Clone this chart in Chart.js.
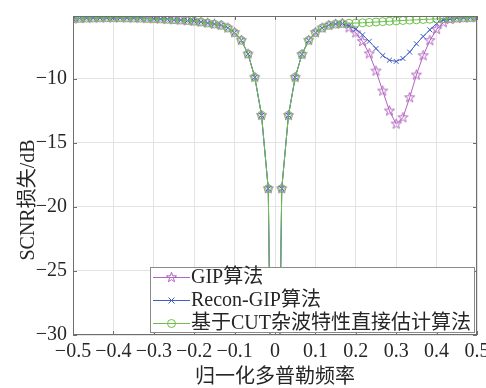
<!DOCTYPE html>
<html><head><meta charset="utf-8">
<script src="https://cdn.jsdelivr.net/npm/chart.js@4"></script>
<style>html,body{margin:0;padding:0;background:#fff}canvas{display:block}</style>
</head><body>
<canvas id="c" width="486" height="388"></canvas>
<script>
const freqs = [-0.5, -0.4833, -0.4667, -0.45, -0.4333, -0.4167, -0.4, -0.3833, -0.3667, -0.35,
  -0.3333, -0.3167, -0.3, -0.2833, -0.2667, -0.25, -0.2333, -0.2167, -0.2, -0.1833,
  -0.1667, -0.15, -0.1333, -0.1167, -0.1, -0.0833, -0.0667, -0.05, -0.0333, -0.0167,
  0, 0.0167, 0.0333, 0.05, 0.0667, 0.0833, 0.1, 0.1167, 0.1333, 0.15,
  0.1667, 0.1833, 0.2, 0.2167, 0.2333, 0.25, 0.2667, 0.2833, 0.3, 0.3167,
  0.3333, 0.35, 0.3667, 0.3833, 0.4, 0.4167, 0.4333, 0.45, 0.4667, 0.4833, 0.5];

const gipLoss = [-5.30, -5.27, -5.25, -5.24, -5.23, -5.22, -5.22, -5.22, -5.23, -5.24,
  -5.25, -5.27, -5.29, -5.31, -5.34, -5.37, -5.40, -5.44, -5.49, -5.55,
  -5.63, -5.71, -5.81, -6.02, -6.38, -6.98, -8.05, -9.87, -12.84, -18.57,
  -60, -18.57, -12.84, -9.87, -8.08, -6.98, -6.38, -6.02, -5.81, -5.71,
  -5.67, -6.00, -6.40, -7.07, -8.03, -9.38, -10.94, -12.50, -13.52, -13.02,
  -11.46, -9.69, -8.18, -7.00, -6.12, -5.60, -5.35, -5.27, -5.23, -5.21, -5.19];

const reconGipLoss = [-5.30, -5.27, -5.25, -5.24, -5.23, -5.22, -5.22, -5.22, -5.23, -5.24,
  -5.25, -5.27, -5.29, -5.31, -5.34, -5.37, -5.40, -5.44, -5.49, -5.55,
  -5.63, -5.71, -5.81, -6.02, -6.38, -6.98, -8.05, -9.87, -12.84, -18.57,
  -60, -18.57, -12.84, -9.87, -8.08, -6.98, -6.38, -6.02, -5.81, -5.71,
  -5.67, -5.85, -6.10, -6.55, -7.06, -7.62, -8.17, -8.53, -8.63, -8.40,
  -7.90, -7.25, -6.68, -6.16, -5.66, -5.40, -5.30, -5.25, -5.22, -5.20, -5.19];

const cutLoss = [-5.30, -5.27, -5.25, -5.24, -5.23, -5.22, -5.22, -5.22, -5.23, -5.24,
  -5.25, -5.27, -5.29, -5.31, -5.34, -5.37, -5.40, -5.44, -5.49, -5.55,
  -5.63, -5.71, -5.81, -6.02, -6.38, -6.98, -8.05, -9.87, -12.84, -18.57,
  -60, -18.57, -12.84, -9.87, -8.08, -6.98, -6.38, -6.02, -5.81, -5.71,
  -5.67, -5.65, -5.63, -5.61, -5.58, -5.55, -5.52, -5.49, -5.46, -5.43,
  -5.40, -5.38, -5.35, -5.33, -5.31, -5.29, -5.27, -5.25, -5.23, -5.21, -5.19];

const seriesNames = ['GIP算法', 'Recon-GIP算法', '基于CUT杂波特性直接估计算法'];
const xTicks = [-0.5, -0.4, -0.3, -0.2, -0.1, 0, 0.1, 0.2, 0.3, 0.4, 0.5];
const yTicks = [-30, -25, -20, -15, -10];
const xTitle = '归一化多普勒频率';
const yTitle = 'SCNR损失/dB';

const FONT = '"Liberation Serif", "Noto Sans CJK SC", serif';
const TXT = '#262626';
const AX = '#6e6e6e';
const C_GIP = '#B262C0', C_REC = '#3D5FC6', C_CUT = '#6DC04B';

function makeStar(color) {
  const c = document.createElement('canvas'); c.width = c.height = 13;
  const g = c.getContext('2d'); g.strokeStyle = color; g.lineWidth = 1;
  g.beginPath();
  for (let k = 0; k < 10; k++) {
    const r = k % 2 ? 2.1 : 5.3; const a = -Math.PI / 2 + k * Math.PI / 5;
    g.lineTo(6.5 + r * Math.cos(a), 6.5 + r * Math.sin(a));
  }
  g.closePath(); g.stroke(); return c;
}
const starImg = makeStar(C_GIP);

const toPts = arr => arr.map((v, i) => ({x: freqs[i], y: v}));
const fmt = v => { if (Math.abs(v) < 1e-9) return '0'; const s = Number.isInteger(v) ? String(v) : v.toFixed(1); return s.replace('-', '\u2212'); };

const decor = {
  id: 'decor',
  afterDatasetsDraw(chart) {
    const {ctx, chartArea: a, scales: {x, y}} = chart;
    ctx.save();
    ctx.strokeStyle = AX; ctx.lineWidth = 1;
    ctx.strokeRect(Math.round(a.left) + 0.5, Math.round(a.top) + 0.5, Math.round(a.right - a.left) - 1, Math.round(a.bottom - a.top) - 1);
    ctx.beginPath();
    xTicks.forEach(v => { const px = Math.round(x.getPixelForValue(v)) + 0.5;
      ctx.moveTo(px, a.bottom); ctx.lineTo(px, a.bottom - 4); ctx.moveTo(px, a.top); ctx.lineTo(px, a.top + 4); });
    yTicks.forEach(v => { const py = Math.round(y.getPixelForValue(v)) + 0.5;
      ctx.moveTo(a.left, py); ctx.lineTo(a.left + 4, py); ctx.moveTo(a.right, py); ctx.lineTo(a.right - 4, py); });
    ctx.stroke();
    ctx.restore();
  },
  afterDraw(chart) {
    const {ctx} = chart;
    ctx.save();
    // y title
    ctx.translate(29, 200); ctx.rotate(-Math.PI / 2);
    ctx.font = '20px ' + FONT; ctx.fillStyle = TXT; ctx.textAlign = 'center'; ctx.textBaseline = 'middle';
    ctx.fillText(yTitle, 0, 0);
    ctx.restore();
    // legend
    ctx.save();
    const bx = 150, by = 267, bw = 324, bh = 65;
    ctx.fillStyle = '#fff'; ctx.fillRect(bx, by, bw, bh);
    ctx.strokeStyle = '#8a8a8a'; ctx.lineWidth = 1; ctx.strokeRect(bx + 0.5, by + 0.5, bw, bh);
    const rows = [277, 300, 323];
    const cols = [C_GIP, C_REC, C_CUT];
    rows.forEach((ry, k) => {
      ctx.strokeStyle = cols[k]; ctx.lineWidth = 1;
      ctx.beginPath(); ctx.moveTo(153, ry + 0.5); ctx.lineTo(190, ry + 0.5); ctx.stroke();
      const mx = 171.5;
      if (k === 0) ctx.drawImage(starImg, mx - 6.5, ry - 6);
      else if (k === 1) { ctx.beginPath(); ctx.moveTo(mx - 3, ry - 2.5); ctx.lineTo(mx + 3, ry + 3.5); ctx.moveTo(mx + 3, ry - 2.5); ctx.lineTo(mx - 3, ry + 3.5); ctx.stroke(); }
      else { ctx.beginPath(); ctx.arc(mx, ry + 0.5, 4, 0, Math.PI * 2); ctx.stroke(); }
      ctx.font = '20px ' + FONT; ctx.fillStyle = TXT; ctx.textAlign = 'left'; ctx.textBaseline = 'middle';
      ctx.fillText(seriesNames[k], 191, ry + 1);
    });
    ctx.restore();
  }
};

new Chart(document.getElementById('c'), {
  type: 'line',
  data: {
    datasets: [
      {label: seriesNames[0], data: toPts(gipLoss), borderColor: C_GIP, backgroundColor: C_GIP, borderWidth: 1,
       pointStyle: starImg, pointRadius: 5, pointBorderColor: C_GIP, pointBackgroundColor: 'rgba(0,0,0,0)', order: 2, tension: 0},
      {label: seriesNames[1], data: toPts(reconGipLoss), borderColor: C_REC, backgroundColor: C_REC, borderWidth: 1,
       pointStyle: 'crossRot', pointRadius: 3.5, pointBorderWidth: 1, pointBorderColor: C_REC, order: 1, tension: 0},
      {label: seriesNames[2], data: toPts(cutLoss), borderColor: C_CUT, backgroundColor: C_CUT, borderWidth: 1,
       pointStyle: 'circle', pointRadius: 4, pointBorderWidth: 1, pointBorderColor: C_CUT, pointBackgroundColor: 'rgba(0,0,0,0)', order: 0, tension: 0}
    ]
  },
  options: {
    responsive: false, animation: false, devicePixelRatio: 1,
    layout: {padding: {top: 16, right: 9, bottom: 0, left: 0}},
    plugins: {legend: {display: false}, tooltip: {enabled: false}},
    scales: {
      x: {
        type: 'linear', min: -0.5, max: 0.5,
        afterBuildTicks: s => { s.ticks = xTicks.map(v => ({value: v})); },
        afterFit: s => { s.height = 53; s.paddingLeft = 0; s.paddingRight = 0; },
        grid: {color: '#e4e4e4', drawTicks: false, lineWidth: 1},
        border: {display: false},
        ticks: {padding: 5, color: TXT, font: {family: FONT, size: 20}, maxRotation: 0, autoSkip: false, callback: v => fmt(v)},
        title: {display: true, text: xTitle, color: TXT, font: {family: FONT, size: 20, lineHeight: 1}, padding: {top: 0, bottom: 0}}
      },
      y: {
        type: 'linear', min: -30, max: -5.08,
        afterBuildTicks: s => { s.ticks = yTicks.map(v => ({value: v})); },
        afterFit: s => { s.width = 73; s.paddingTop = 0; s.paddingBottom = 0; },
        grid: {color: '#e4e4e4', drawTicks: false, lineWidth: 1},
        border: {display: false},
        ticks: {padding: 6, color: TXT, font: {family: FONT, size: 20}, autoSkip: false, callback: v => fmt(v)},
        title: {display: false}
      }
    }
  },
  plugins: [decor]
});
</script>
</body></html>
